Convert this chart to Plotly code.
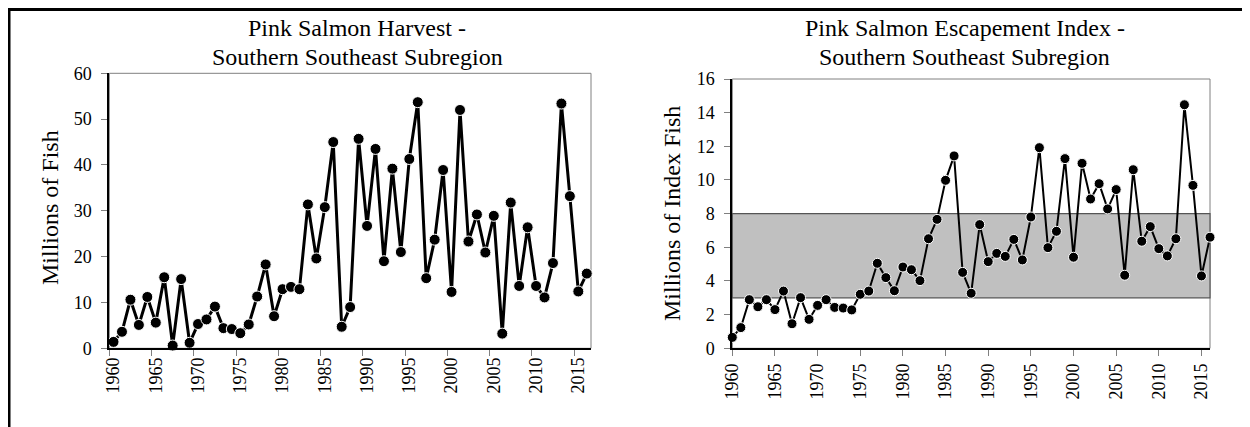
import plotly.graph_objects as go

# ---- data ----
years = list(range(1960, 2017))
harvest = [1.4, 3.6, 10.6, 5.1, 11.2, 5.6, 15.5, 0.6, 15.1, 1.2,
           5.3, 6.3, 9.1, 4.4, 4.2, 3.3, 5.2, 11.3, 18.3, 7.0,
           12.9, 13.4, 12.9, 31.4, 19.6, 30.8, 45.0, 4.7, 9.0, 45.7,
           26.7, 43.5, 19.0, 39.2, 21.0, 41.3, 53.7, 15.3, 23.7, 38.9,
           12.3, 52.0, 23.3, 29.2, 20.9, 28.9, 3.2, 31.8, 13.6, 26.4,
           13.6, 11.1, 18.6, 53.4, 33.2, 12.4, 16.3]
escapement = [0.65, 1.23, 2.89, 2.47, 2.89, 2.30, 3.40, 1.46, 3.01, 1.72,
              2.55, 2.89, 2.43, 2.39, 2.28, 3.21, 3.40, 5.05, 4.20, 3.42,
              4.83, 4.67, 4.02, 6.51, 7.66, 9.98, 11.43, 4.51, 3.27, 7.35,
              5.15, 5.64, 5.46, 6.47, 5.25, 7.80, 11.92, 5.98, 6.95, 11.27,
              5.41, 10.99, 8.87, 9.78, 8.28, 9.43, 4.34, 10.61, 6.36, 7.23,
              5.92, 5.49, 6.51, 14.47, 9.68, 4.30, 6.60]
goal_low = 3.0
goal_high = 8.0
x_tick_years = list(range(1960, 2016, 5))
left_yticks = [0, 10, 20, 30, 40, 50, 60]
right_yticks = [0, 2, 4, 6, 8, 10, 12, 14, 16]
left_title = ["Pink Salmon Harvest -", "Southern Southeast Subregion"]
right_title = ["Pink Salmon Escapement Index -", "Southern Southeast Subregion"]
left_ytitle = "Millions of Fish"
right_ytitle = "Millions of Index Fish"

W, H = 1250, 427
OFF = 8  # page body margin of the browser
FONT = "Liberation Serif, Times New Roman, serif"

def px(x):
    return (x - OFF) / W

def py(y):
    return 1 - (y - OFF) / H

fig = go.Figure()

fig.add_trace(go.Scatter(
    x=years, y=harvest, mode="lines+markers", xaxis="x", yaxis="y",
    line=dict(color="black", width=3),
    marker=dict(color="black", size=11, line=dict(color="white", width=1)),
    cliponaxis=False, showlegend=False))

fig.add_trace(go.Scatter(
    x=years, y=escapement, mode="lines+markers", xaxis="x2", yaxis="y2",
    line=dict(color="black", width=2),
    marker=dict(color="black", size=10, line=dict(color="white", width=1)),
    cliponaxis=False, showlegend=False))

tickfont = dict(family=FONT, size=18, color="black")
common_x = dict(showgrid=False, zeroline=False, showline=True, linecolor="black",
                linewidth=2, tickangle=-90, tickfont=tickfont, fixedrange=True,
                automargin=False)
common_y = dict(showgrid=False, zeroline=False, showline=True, linecolor="black",
                linewidth=2, ticks="outside", ticklen=6, tickcolor="#808080",
                tickfont=tickfont, ticklabelstandoff=6, fixedrange=True,
                automargin=False)

fig.update_layout(
    template="none",
    width=W, height=H,
    margin=dict(l=0, r=0, t=0, b=0, pad=0, autoexpand=False),
    paper_bgcolor="white", plot_bgcolor="white",
    font=dict(family=FONT, color="black"),
    xaxis=dict(domain=[px(109.3), px(591)], range=[1959.5, 2016.5],
               tickvals=x_tick_years, ticks="", anchor="y",
               minor=dict(tickvals=[y - 0.5 for y in x_tick_years], ticks="outside",
                          ticklen=6, tickcolor="#808080"),
               **common_x),
    yaxis=dict(domain=[py(348.3), py(73.3)], range=[0, 60], tickvals=left_yticks,
               anchor="x", **common_y),
    xaxis2=dict(domain=[px(732.3), px(1210)], range=[1960, 2016],
                tickvals=x_tick_years, ticks="outside", ticklen=6, tickcolor="#808080",
                anchor="y2", **common_x),
    yaxis2=dict(domain=[py(348.3), py(79)], range=[0, 16], tickvals=right_yticks,
                anchor="x2", **common_y),
)

shapes = [
    # plot-area frames (gray)
    dict(type="rect", xref="x domain", yref="y domain", x0=0, x1=1, y0=0, y1=1,
         line=dict(color="#808080", width=1), layer="below"),
    dict(type="rect", xref="x2 domain", yref="y2 domain", x0=0, x1=1, y0=0, y1=1,
         line=dict(color="#808080", width=1), layer="below"),
    # escapement goal band
    dict(type="rect", xref="x2 domain", yref="y2", x0=0, x1=1, y0=goal_low, y1=goal_high,
         fillcolor="#C0C0C0", line=dict(color="#555555", width=1.2), layer="below"),
    # outer frame (top and left edges visible)
    dict(type="line", xref="paper", yref="paper", x0=px(9), x1=px(1270),
         y0=py(9.5), y1=py(9.5), line=dict(color="black", width=3)),
    dict(type="line", xref="paper", yref="paper", x0=px(9), x1=px(9),
         y0=py(8), y1=py(450), line=dict(color="black", width=3)),
]
fig.update_layout(shapes=shapes)

ann = []
title_font = dict(family=FONT, size=24, color="black")
for i, line in enumerate(left_title):
    ann.append(dict(text=line, xref="paper", yref="paper", x=px(357), y=py(28 + 29 * i),
                    xanchor="center", yanchor="middle", showarrow=False, font=title_font))
for i, line in enumerate(right_title):
    ann.append(dict(text=line, xref="paper", yref="paper", x=px(965), y=py(28 + 29 * i),
                    xanchor="center", yanchor="middle", showarrow=False, font=title_font))
ann.append(dict(text=left_ytitle, xref="paper", yref="paper", x=px(50), y=py(208),
                xanchor="center", yanchor="middle", textangle=-90, showarrow=False,
                font=title_font))
ann.append(dict(text=right_ytitle, xref="paper", yref="paper", x=px(672), y=py(214),
                xanchor="center", yanchor="middle", textangle=-90, showarrow=False,
                font=title_font))
fig.update_layout(annotations=ann)

fig.write_html("out.html")
